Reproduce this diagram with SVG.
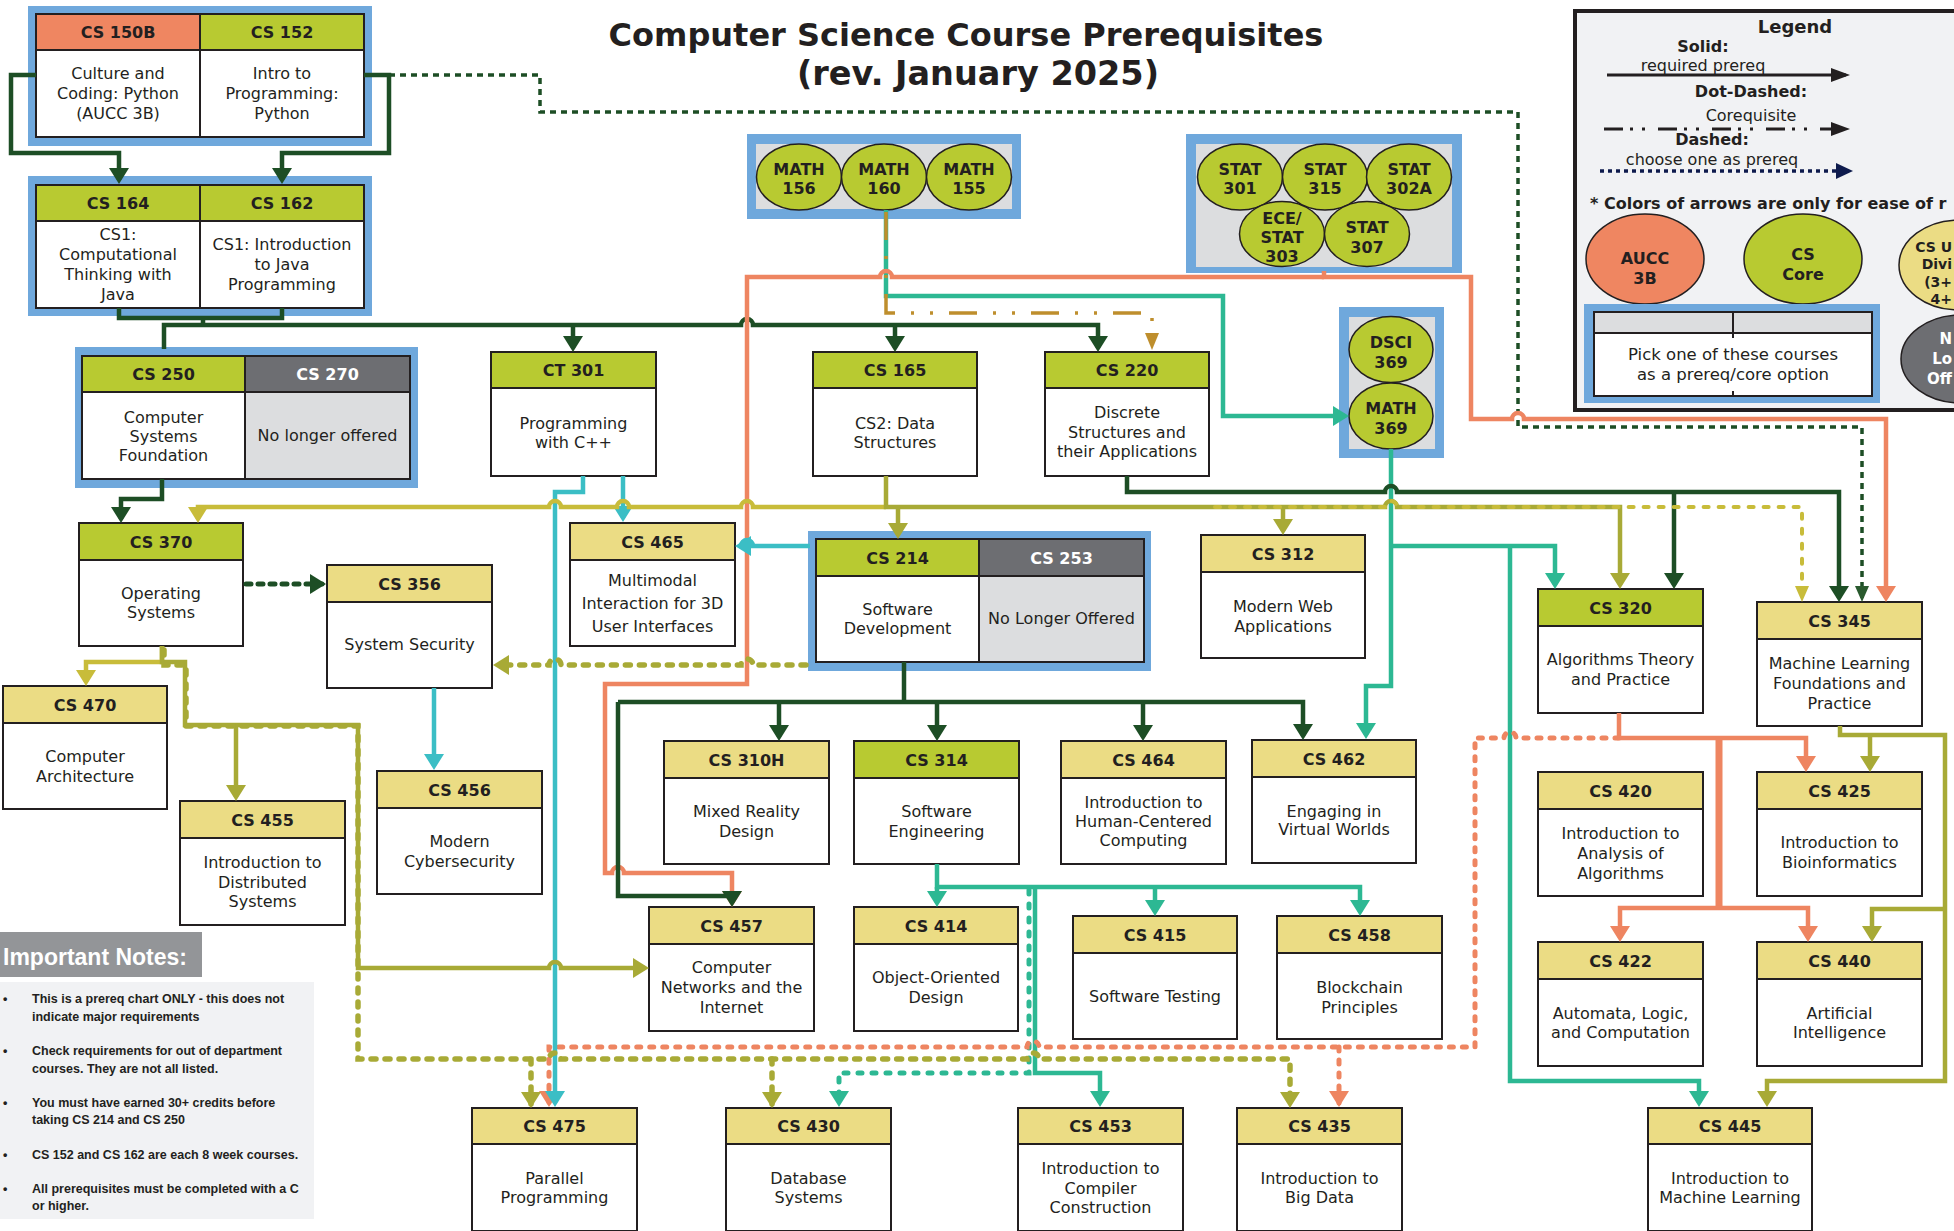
<svg xmlns="http://www.w3.org/2000/svg" width="1954" height="1231" viewBox="0 0 1954 1231">
<style>
.b{stroke:#231F20;stroke-width:2}
.hg{fill:#B8CA31}.hy{fill:#EBDC84}.ho{fill:#EF8661}.hk{fill:#6D6E72}.bw{fill:#fff}.bk{fill:#DCDDDF}
.grp{fill:#6FA8DC}.gin{fill:#DCDDDF}
.el{stroke:#231F20;stroke-width:1.5;fill:#B8CA31}
text{fill:#231F20;font-family:"DejaVu Sans",Verdana,sans-serif}
.h{font-weight:bold;font-size:16px;text-anchor:middle}
.t{font-size:16px;text-anchor:middle}
.w{fill:#fff}
.pe{font-weight:bold;text-anchor:end}
.c{fill:none;stroke-width:4.5}
.dg{stroke:#1D4E25}.or{stroke:#EE8561}.tl{stroke:#2DB893}.cy{stroke:#3BBEC5}.ol{stroke:#A8AA36}.mu{stroke:#C8BC3A}.gd{stroke:#BE8E2D}
.d1{stroke-dasharray:4 5;stroke-width:3.5}
.d2{stroke-dasharray:5 7;stroke-linecap:round;stroke-width:5}
.dr{stroke-dasharray:4 9;stroke-linecap:round;stroke-width:5}
.dol{stroke-dasharray:5 9;stroke-linecap:round;stroke-width:5.5}
.dtl{stroke-dasharray:4 10;stroke-linecap:round;stroke-width:5}
.dmu{stroke-dasharray:5 10;stroke-linecap:round;stroke-width:4}
.note{font-family:"Liberation Sans",Arial,sans-serif;font-weight:bold;font-size:12.5px}
</style>
<defs>
<marker id="adg" markerUnits="userSpaceOnUse" viewBox="0 0 16 20" markerWidth="16" markerHeight="20" refX="12" refY="10" orient="auto"><path d="M0,0 L16,10 L0,20 Z" fill="#1D4E25"/></marker>
<marker id="adgs" markerUnits="userSpaceOnUse" viewBox="0 0 16 14" markerWidth="16" markerHeight="14" refX="12" refY="7" orient="auto"><path d="M0,0 L16,7 L0,14 Z" fill="#2A5A2E"/></marker>
<marker id="aor" markerUnits="userSpaceOnUse" viewBox="0 0 16 20" markerWidth="16" markerHeight="20" refX="12" refY="10" orient="auto"><path d="M0,0 L16,10 L0,20 Z" fill="#EE8561"/></marker>
<marker id="atl" markerUnits="userSpaceOnUse" viewBox="0 0 16 20" markerWidth="16" markerHeight="20" refX="12" refY="10" orient="auto"><path d="M0,0 L16,10 L0,20 Z" fill="#2DB893"/></marker>
<marker id="acy" markerUnits="userSpaceOnUse" viewBox="0 0 16 20" markerWidth="16" markerHeight="20" refX="12" refY="10" orient="auto"><path d="M0,0 L16,10 L0,20 Z" fill="#3BBEC5"/></marker>
<marker id="aol" markerUnits="userSpaceOnUse" viewBox="0 0 16 20" markerWidth="16" markerHeight="20" refX="12" refY="10" orient="auto"><path d="M0,0 L16,10 L0,20 Z" fill="#A8AA36"/></marker>
<marker id="amu" markerUnits="userSpaceOnUse" viewBox="0 0 16 20" markerWidth="16" markerHeight="20" refX="12" refY="10" orient="auto"><path d="M0,0 L16,10 L0,20 Z" fill="#C8BC3A"/></marker>
<marker id="amus" markerUnits="userSpaceOnUse" viewBox="0 0 16 14" markerWidth="16" markerHeight="14" refX="12" refY="7" orient="auto"><path d="M0,0 L16,7 L0,14 Z" fill="#C8BC3A"/></marker>
<marker id="agd" markerUnits="userSpaceOnUse" viewBox="0 0 17 14" markerWidth="17" markerHeight="14" refX="13" refY="7" orient="auto"><path d="M0,0 L17,7 L0,14 Z" fill="#BE8E2D"/></marker>
<marker id="abk" markerUnits="userSpaceOnUse" viewBox="0 0 19 14" markerWidth="19" markerHeight="14" refX="15" refY="7" orient="auto"><path d="M0,0 L19,7 L0,14 Z" fill="#231F20"/></marker>
<marker id="anv" markerUnits="userSpaceOnUse" viewBox="0 0 17 16" markerWidth="17" markerHeight="16" refX="13" refY="8" orient="auto"><path d="M0,0 L17,8 L0,16 Z" fill="#0E1B4D"/></marker>
</defs>
<rect width="1954" height="1231" fill="#fff"/>

<g id="title">
<text x="966" y="46" style="font-weight:bold;font-size:32px" text-anchor="middle">Computer Science Course Prerequisites</text>
<text x="978" y="85" style="font-weight:bold;font-size:33.5px" text-anchor="middle">(rev. January 2025)</text>
</g>

<g id="legend">
<rect x="1575" y="11" width="420" height="399" fill="#F1F2F4" stroke="#231F20" stroke-width="4"/>
<text x="1795" y="33" style="font-weight:bold;font-size:18px" text-anchor="middle">Legend</text>
<text x="1703" y="52" class="h">Solid:</text>
<text x="1703" y="71" class="t">required prereq</text>
<path d="M1607,75 H1846" fill="none" stroke="#231F20" stroke-width="3" marker-end="url(#abk)"/>
<text x="1751" y="97" class="h">Dot-Dashed:</text>
<text x="1751" y="121" class="t">Corequisite</text>
<path d="M1604,129 H1846" fill="none" stroke="#231F20" stroke-width="3" stroke-dasharray="19 7 3 9 3 13" marker-end="url(#abk)"/>
<text x="1712" y="145" class="h">Dashed:</text>
<text x="1712" y="165" class="t">choose one as prereq</text>
<path d="M1600,171 H1849" fill="none" stroke="#0E1B4D" stroke-width="3.5" stroke-dasharray="4 4" marker-end="url(#anv)"/>
<text x="1590" y="209" style="font-weight:bold;font-size:16px">* Colors of arrows are only for ease of r</text>
<ellipse cx="1645" cy="259" rx="59" ry="45" class="el" style="fill:#EF8661"/>
<text x="1645" y="264" class="h">AUCC</text><text x="1645" y="284" class="h">3B</text>
<ellipse cx="1803" cy="259" rx="59" ry="45" class="el"/>
<text x="1803" y="260" class="h">CS</text><text x="1803" y="280" class="h">Core</text>
<ellipse cx="1959" cy="265" rx="60" ry="45" class="el" style="fill:#EBDC84"/>
<text x="1952" y="252" class="pe" style="font-size:14px">CS U</text>
<text x="1952" y="269" class="pe" style="font-size:14px">Divi</text>
<text x="1952" y="287" class="pe" style="font-size:14px">(3+</text>
<text x="1952" y="304" class="pe" style="font-size:14px">4+</text>
<ellipse cx="1961" cy="359" rx="60" ry="44" class="el" style="fill:#6D6E72"/>
<text x="1952" y="344" class="pe w" style="font-size:15px">N</text>
<text x="1952" y="364" class="pe w" style="font-size:15px">Lo</text>
<text x="1952" y="384" class="pe w" style="font-size:15px">Off</text>
<rect x="1584" y="304" width="296" height="99" class="grp"/>
<rect x="1594" y="312" width="139" height="21" class="b bk"/>
<rect x="1733" y="312" width="139" height="21" class="b bk"/>
<rect x="1594" y="333" width="278" height="63" class="b bw"/>
<line x1="1733" y1="333" x2="1733" y2="338" class="b"/>
<line x1="1733" y1="391" x2="1733" y2="396" class="b"/>
<text x="1733" y="360" class="t" style="font-size:16.5px">Pick one of these courses</text>
<text x="1733" y="380" class="t" style="font-size:16.5px">as a prereq/core option</text>
</g>

<g id="notes">
<rect x="0" y="932" width="202" height="45" fill="#939598"/>
<text x="3" y="965" class="w" style="font-family:'Liberation Sans',Arial,sans-serif;font-weight:bold;font-size:23px">Important Notes:</text>
<rect x="0" y="982" width="314" height="237" fill="#F1F2F4"/>
<text x="3" y="1003" class="note">•</text><text x="32" y="1003" class="note">This is a prereq chart ONLY - this does not</text>
<text x="32" y="1021" class="note">indicate major requirements</text>
<text x="3" y="1055" class="note">•</text><text x="32" y="1055" class="note">Check requirements for out of department</text>
<text x="32" y="1073" class="note">courses. They are not all listed.</text>
<text x="3" y="1107" class="note">•</text><text x="32" y="1107" class="note">You must have earned 30+ credits before</text>
<text x="32" y="1124" class="note">taking CS 214 and CS 250</text>
<text x="3" y="1159" class="note">•</text><text x="32" y="1159" class="note">CS 152 and CS 162 are each 8 week courses.</text>
<text x="3" y="1193" class="note">•</text><text x="32" y="1193" class="note">All prerequisites must be completed with a C</text>
<text x="32" y="1210" class="note">or higher.</text>
</g>

<g id="grp-intro">
<rect x="28" y="6" width="344" height="140" class="grp"/>
<g id="cs150b"><rect x="36" y="14" width="164" height="36" class="b ho"/><rect x="36" y="50" width="164" height="87" class="b bw"/>
<text x="118" y="38" class="h">CS 150B</text><text x="118" y="79" class="t">Culture and</text><text x="118" y="99" class="t">Coding: Python</text><text x="118" y="119" class="t">(AUCC 3B)</text></g>
<g id="cs152"><rect x="200" y="14" width="164" height="36" class="b hg"/><rect x="200" y="50" width="164" height="87" class="b bw"/>
<text x="282" y="38" class="h">CS 152</text><text x="282" y="79" class="t">Intro to</text><text x="282" y="99" class="t">Programming:</text><text x="282" y="119" class="t">Python</text></g>
</g>
<g id="grp-cs1">
<rect x="28" y="176" width="344" height="140" class="grp"/>
<g id="cs164"><rect x="36" y="185" width="164" height="36" class="b hg"/><rect x="36" y="221" width="164" height="87" class="b bw"/>
<text x="118" y="209" class="h">CS 164</text><text x="118" y="240" class="t">CS1:</text><text x="118" y="260" class="t">Computational</text><text x="118" y="280" class="t">Thinking with</text><text x="118" y="299.5" class="t">Java</text></g>
<g id="cs162"><rect x="200" y="185" width="164" height="36" class="b hg"/><rect x="200" y="221" width="164" height="87" class="b bw"/>
<text x="282" y="209" class="h">CS 162</text><text x="282" y="250" class="t">CS1: Introduction</text><text x="282" y="270" class="t">to Java</text><text x="282" y="290" class="t">Programming</text></g>
</g>
<g id="grp-250">
<rect x="75" y="347" width="343" height="141" class="grp"/>
<g id="cs250"><rect x="82" y="356" width="163" height="36" class="b hg"/><rect x="82" y="392" width="163" height="87" class="b bw"/>
<text x="163.5" y="380" class="h">CS 250</text><text x="163.5" y="422.5" class="t">Computer</text><text x="163.5" y="441.5" class="t">Systems</text><text x="163.5" y="461" class="t">Foundation</text></g>
<g id="cs270"><rect x="245" y="356" width="165" height="36" class="b hk"/><rect x="245" y="392" width="165" height="87" class="b bk"/>
<text x="327.5" y="380" class="h w">CS 270</text><text x="327.5" y="441" class="t">No longer offered</text></g>
</g>
<g id="grp-math">
<rect x="747" y="134" width="274" height="85" class="grp"/><rect x="756" y="144" width="256" height="65" class="gin"/>
<g id="math156"><ellipse cx="799" cy="177" rx="42.5" ry="33" class="el"/><text x="799" y="175" class="h">MATH</text><text x="799" y="194" class="h">156</text></g>
<g id="math160"><ellipse cx="884" cy="177" rx="42.5" ry="33" class="el"/><text x="884" y="175" class="h">MATH</text><text x="884" y="194" class="h">160</text></g>
<g id="math155"><ellipse cx="969" cy="177" rx="42.5" ry="33" class="el"/><text x="969" y="175" class="h">MATH</text><text x="969" y="194" class="h">155</text></g>
</g>
<g id="grp-stat">
<rect x="1186" y="134" width="276" height="139" class="grp"/><rect x="1196" y="144" width="256" height="123" class="gin"/>
<g id="stat301"><ellipse cx="1240" cy="177" rx="42.5" ry="33" class="el"/><text x="1240" y="175" class="h">STAT</text><text x="1240" y="194" class="h">301</text></g>
<g id="stat315"><ellipse cx="1325" cy="177" rx="42.5" ry="33" class="el"/><text x="1325" y="175" class="h">STAT</text><text x="1325" y="194" class="h">315</text></g>
<g id="stat302a"><ellipse cx="1409" cy="177" rx="42.5" ry="33" class="el"/><text x="1409" y="175" class="h">STAT</text><text x="1409" y="194" class="h">302A</text></g>
<g id="stat303"><ellipse cx="1282" cy="234" rx="42.5" ry="32.5" class="el"/><text x="1282" y="224" class="h">ECE/</text><text x="1282" y="243" class="h">STAT</text><text x="1282" y="262" class="h">303</text></g>
<g id="stat307"><ellipse cx="1367" cy="234" rx="42.5" ry="32.5" class="el"/><text x="1367" y="233" class="h">STAT</text><text x="1367" y="253" class="h">307</text></g>
</g>
<g id="grp-369">
<rect x="1339" y="307" width="105" height="151" class="grp"/><rect x="1349" y="317" width="86" height="132" class="gin"/>
<g id="dsci369"><ellipse cx="1391" cy="349.5" rx="42" ry="33" class="el"/><text x="1391" y="347.5" class="h">DSCI</text><text x="1391" y="367.5" class="h">369</text></g>
<g id="math369"><ellipse cx="1391" cy="416" rx="42" ry="33" class="el"/><text x="1391" y="414" class="h">MATH</text><text x="1391" y="434" class="h">369</text></g>
</g>
<g id="grp-214">
<rect x="808" y="531" width="343" height="140" class="grp"/>
<g id="cs214"><rect x="816" y="539" width="163" height="37" class="b hg"/><rect x="816" y="576" width="163" height="86" class="b bw"/>
<text x="897.5" y="563.5" class="h">CS 214</text><text x="897.5" y="615" class="t">Software</text><text x="897.5" y="634" class="t">Development</text></g>
<g id="cs253"><rect x="979" y="539" width="165" height="37" class="b hk"/><rect x="979" y="576" width="165" height="86" class="b bk"/>
<text x="1061.5" y="563.5" class="h w">CS 253</text><text x="1061.5" y="624" class="t">No Longer Offered</text></g>
</g>

<g id="ct301"><rect x="491" y="352" width="165" height="36" class="b hg"/><rect x="491" y="388" width="165" height="88" class="b bw"/>
<text x="573.5" y="376" class="h">CT 301</text><text x="573.5" y="428.5" class="t">Programming</text><text x="573.5" y="447.5" class="t">with C++</text></g>
<g id="cs165"><rect x="813" y="352" width="164" height="36" class="b hg"/><rect x="813" y="388" width="164" height="88" class="b bw"/>
<text x="895" y="376" class="h">CS 165</text><text x="895" y="428.5" class="t">CS2: Data</text><text x="895" y="447.5" class="t">Structures</text></g>
<g id="cs220"><rect x="1045" y="352" width="164" height="36" class="b hg"/><rect x="1045" y="388" width="164" height="88" class="b bw"/>
<text x="1127" y="376" class="h">CS 220</text><text x="1127" y="418" class="t">Discrete</text><text x="1127" y="437.5" class="t">Structures and</text><text x="1127" y="457" class="t">their Applications</text></g>
<g id="cs370"><rect x="79" y="523" width="164" height="37" class="b hg"/><rect x="79" y="560" width="164" height="86" class="b bw"/>
<text x="161" y="547.5" class="h">CS 370</text><text x="161" y="599" class="t">Operating</text><text x="161" y="618" class="t">Systems</text></g>
<g id="cs465"><rect x="570" y="523" width="165" height="37" class="b hy"/><rect x="570" y="560" width="165" height="86" class="b bw"/>
<text x="652.5" y="547.5" class="h">CS 465</text><text x="652.5" y="586" class="t">Multimodal</text><text x="652.5" y="609" class="t">Interaction for 3D</text><text x="652.5" y="632" class="t">User Interfaces</text></g>
<g id="cs312"><rect x="1201" y="535" width="164" height="37" class="b hy"/><rect x="1201" y="572" width="164" height="86" class="b bw"/>
<text x="1283" y="559.5" class="h">CS 312</text><text x="1283" y="611.5" class="t">Modern Web</text><text x="1283" y="631.5" class="t">Applications</text></g>
<g id="cs356"><rect x="327" y="565" width="165" height="37" class="b hy"/><rect x="327" y="602" width="165" height="86" class="b bw"/>
<text x="409.5" y="589.5" class="h">CS 356</text><text x="409.5" y="650" class="t">System Security</text></g>
<g id="cs320"><rect x="1538" y="589" width="165" height="37" class="b hg"/><rect x="1538" y="626" width="165" height="87" class="b bw"/>
<text x="1620.5" y="613.5" class="h">CS 320</text><text x="1620.5" y="665" class="t">Algorithms Theory</text><text x="1620.5" y="685" class="t">and Practice</text></g>
<g id="cs345"><rect x="1757" y="602" width="165" height="37" class="b hy"/><rect x="1757" y="639" width="165" height="87" class="b bw"/>
<text x="1839.5" y="626.5" class="h">CS 345</text><text x="1839.5" y="668.5" class="t">Machine Learning</text><text x="1839.5" y="688.5" class="t">Foundations and</text><text x="1839.5" y="708.5" class="t">Practice</text></g>
<g id="cs470"><rect x="3" y="686" width="164" height="37" class="b hy"/><rect x="3" y="723" width="164" height="86" class="b bw"/>
<text x="85" y="710.5" class="h">CS 470</text><text x="85" y="762" class="t">Computer</text><text x="85" y="782" class="t">Architecture</text></g>
<g id="cs310h"><rect x="664" y="741" width="165" height="37" class="b hy"/><rect x="664" y="778" width="165" height="86" class="b bw"/>
<text x="746.5" y="765.5" class="h">CS 310H</text><text x="746.5" y="816.5" class="t">Mixed Reality</text><text x="746.5" y="836.5" class="t">Design</text></g>
<g id="cs314"><rect x="854" y="741" width="165" height="37" class="b hg"/><rect x="854" y="778" width="165" height="86" class="b bw"/>
<text x="936.5" y="765.5" class="h">CS 314</text><text x="936.5" y="816.5" class="t">Software</text><text x="936.5" y="836.5" class="t">Engineering</text></g>
<g id="cs464"><rect x="1061" y="741" width="165" height="37" class="b hy"/><rect x="1061" y="778" width="165" height="86" class="b bw"/>
<text x="1143.5" y="765.5" class="h">CS 464</text><text x="1143.5" y="807.5" class="t">Introduction to</text><text x="1143.5" y="826.5" class="t">Human-Centered</text><text x="1143.5" y="846" class="t">Computing</text></g>
<g id="cs462"><rect x="1252" y="740" width="164" height="37" class="b hy"/><rect x="1252" y="777" width="164" height="86" class="b bw"/>
<text x="1334" y="764.5" class="h">CS 462</text><text x="1334" y="816.5" class="t">Engaging in</text><text x="1334" y="835" class="t">Virtual Worlds</text></g>
<g id="cs456"><rect x="377" y="771" width="165" height="37" class="b hy"/><rect x="377" y="808" width="165" height="86" class="b bw"/>
<text x="459.5" y="795.5" class="h">CS 456</text><text x="459.5" y="847" class="t">Modern</text><text x="459.5" y="866.5" class="t">Cybersecurity</text></g>
<g id="cs420"><rect x="1538" y="772" width="165" height="37" class="b hy"/><rect x="1538" y="809" width="165" height="87" class="b bw"/>
<text x="1620.5" y="796.5" class="h">CS 420</text><text x="1620.5" y="838.5" class="t">Introduction to</text><text x="1620.5" y="858.5" class="t">Analysis of</text><text x="1620.5" y="878.5" class="t">Algorithms</text></g>
<g id="cs425"><rect x="1757" y="772" width="165" height="37" class="b hy"/><rect x="1757" y="809" width="165" height="87" class="b bw"/>
<text x="1839.5" y="796.5" class="h">CS 425</text><text x="1839.5" y="848" class="t">Introduction to</text><text x="1839.5" y="868" class="t">Bioinformatics</text></g>
<g id="cs455"><rect x="180" y="801" width="165" height="37" class="b hy"/><rect x="180" y="838" width="165" height="87" class="b bw"/>
<text x="262.5" y="825.5" class="h">CS 455</text><text x="262.5" y="868" class="t">Introduction to</text><text x="262.5" y="887.5" class="t">Distributed</text><text x="262.5" y="907" class="t">Systems</text></g>
<g id="cs457"><rect x="649" y="907" width="165" height="37" class="b hy"/><rect x="649" y="944" width="165" height="87" class="b bw"/>
<text x="731.5" y="931.5" class="h">CS 457</text><text x="731.5" y="973" class="t">Computer</text><text x="731.5" y="993" class="t">Networks and the</text><text x="731.5" y="1013" class="t">Internet</text></g>
<g id="cs414"><rect x="854" y="907" width="164" height="37" class="b hy"/><rect x="854" y="944" width="164" height="87" class="b bw"/>
<text x="936" y="931.5" class="h">CS 414</text><text x="936" y="983" class="t">Object-Oriented</text><text x="936" y="1003" class="t">Design</text></g>
<g id="cs415"><rect x="1073" y="916" width="164" height="37" class="b hy"/><rect x="1073" y="953" width="164" height="86" class="b bw"/>
<text x="1155" y="940.5" class="h">CS 415</text><text x="1155" y="1002" class="t">Software Testing</text></g>
<g id="cs458"><rect x="1277" y="916" width="165" height="37" class="b hy"/><rect x="1277" y="953" width="165" height="86" class="b bw"/>
<text x="1359.5" y="940.5" class="h">CS 458</text><text x="1359.5" y="992.5" class="t">Blockchain</text><text x="1359.5" y="1012.5" class="t">Principles</text></g>
<g id="cs422"><rect x="1538" y="942" width="165" height="37" class="b hy"/><rect x="1538" y="979" width="165" height="87" class="b bw"/>
<text x="1620.5" y="966.5" class="h">CS 422</text><text x="1620.5" y="1018.5" class="t">Automata, Logic,</text><text x="1620.5" y="1038" class="t">and Computation</text></g>
<g id="cs440"><rect x="1757" y="942" width="165" height="37" class="b hy"/><rect x="1757" y="979" width="165" height="87" class="b bw"/>
<text x="1839.5" y="966.5" class="h">CS 440</text><text x="1839.5" y="1018.5" class="t">Artificial</text><text x="1839.5" y="1038" class="t">Intelligence</text></g>
<g id="cs475"><rect x="472" y="1108" width="165" height="36" class="b hy"/><rect x="472" y="1144" width="165" height="87" class="b bw"/>
<text x="554.5" y="1132" class="h">CS 475</text><text x="554.5" y="1184" class="t">Parallel</text><text x="554.5" y="1203" class="t">Programming</text></g>
<g id="cs430"><rect x="726" y="1108" width="165" height="36" class="b hy"/><rect x="726" y="1144" width="165" height="87" class="b bw"/>
<text x="808.5" y="1132" class="h">CS 430</text><text x="808.5" y="1184" class="t">Database</text><text x="808.5" y="1203" class="t">Systems</text></g>
<g id="cs453"><rect x="1018" y="1108" width="165" height="36" class="b hy"/><rect x="1018" y="1144" width="165" height="87" class="b bw"/>
<text x="1100.5" y="1132" class="h">CS 453</text><text x="1100.5" y="1174" class="t">Introduction to</text><text x="1100.5" y="1194" class="t">Compiler</text><text x="1100.5" y="1213" class="t">Construction</text></g>
<g id="cs435"><rect x="1237" y="1108" width="165" height="36" class="b hy"/><rect x="1237" y="1144" width="165" height="87" class="b bw"/>
<text x="1319.5" y="1132" class="h">CS 435</text><text x="1319.5" y="1184" class="t">Introduction to</text><text x="1319.5" y="1203" class="t">Big Data</text></g>
<g id="cs445"><rect x="1648" y="1108" width="164" height="36" class="b hy"/><rect x="1648" y="1144" width="164" height="87" class="b bw"/>
<text x="1730" y="1132" class="h">CS 445</text><text x="1730" y="1184" class="t">Introduction to</text><text x="1730" y="1203" class="t">Machine Learning</text></g>

<g id="connectors">
<path class="c tl" d="M886,210 V296 H1223 V416 H1345" marker-end="url(#atl)"/>
<path class="c tl" d="M1391,449 V686 H1366 V735" marker-end="url(#atl)"/>
<path class="c tl" d="M1391,546 H1555 V585" marker-end="url(#atl)"/>
<path class="c tl" d="M1510,546 V1081 H1699 V1103" marker-end="url(#atl)"/>
<path class="c tl" d="M937,864 V887 H1360 V912" marker-end="url(#atl)"/>
<path class="c tl" d="M937,887 V903" marker-end="url(#atl)"/>
<path class="c tl" d="M1155,887 V912" marker-end="url(#atl)"/>
<path class="c tl" d="M1035,887 V1073 H1100 V1103" marker-end="url(#atl)"/>
<path class="c tl dtl" d="M1029,890 V1073 H839 V1103" marker-end="url(#atl)"/>
<path class="c gd" style="stroke-width:3.5" stroke-dasharray="28 16 3 16 3 16" d="M886,212 V313 H1152 V346" marker-end="url(#agd)"/>
<path class="c dg" d="M36,75 H11 V153 H119 V180" marker-end="url(#adg)"/>
<path class="c dg" d="M364,75 H389 V153 H282 V180" marker-end="url(#adg)"/>
<path class="c dg" d="M119,308 V318 H282 V308 M203,318 V325"/>
<path class="c dg" d="M164,349 V325 H741 a6,6 0 0 1 12,0 H1098 V348" marker-end="url(#adg)"/>
<path class="c dg" d="M573,325 V348" marker-end="url(#adg)"/>
<path class="c dg" d="M895,325 V348" marker-end="url(#adg)"/>
<path class="c dg" d="M162,479 V499 H121 V519" marker-end="url(#adg)"/>
<path class="c dg" d="M1127,476 V492 H1385 a6,6 0 0 1 12,0 H1839 V598" marker-end="url(#adg)"/>
<path class="c dg" d="M1674,492 V585" marker-end="url(#adg)"/>
<path class="c dg" d="M904,662 V702"/>
<path class="c dg" d="M618,702 H1303 V736" marker-end="url(#adg)"/>
<path class="c dg" d="M779,702 V737" marker-end="url(#adg)"/>
<path class="c dg" d="M937,702 V737" marker-end="url(#adg)"/>
<path class="c dg" d="M1143,702 V737" marker-end="url(#adg)"/>
<path class="c dg d1" d="M389,75 H540 V112 H1518 V427 H1862 V598" style="stroke-dasharray:6 5" marker-end="url(#adgs)"/>
<path class="c dg d2" d="M246,584 H322" marker-end="url(#adg)"/>
<path class="c or" d="M1324,271 V277 H1471 V419 H1512 a6,6 0 0 1 12,0 H1886 V598" marker-end="url(#aor)"/>
<path class="c or" d="M1324,277 H892 a6,6 0 0 0 -12,0 H747 V684 H605 V873 H612 a6,6 0 0 1 12,0 H732 V903" marker-end="url(#aor)"/>
<path class="c dg" d="M618,702 V896 H732 V903" marker-end="url(#adg)"/>
<path class="c or" d="M1619,713 V738 H1806 V768" marker-end="url(#aor)"/>
<path class="c or" style="stroke-width:7" d="M1719,738 V908"/>
<path class="c or" d="M1719,908 H1620 V938" marker-end="url(#aor)"/>
<path class="c or" d="M1719,908 H1808 V938" marker-end="url(#aor)"/>
<path class="c or dr" d="M1619,738 H1516 a6,6 0 0 0 -12,0 H1475 V1047 H1039 a6,6 0 0 0 -12,0 H549 V1103" marker-end="url(#aor)"/>
<path class="c or dr" d="M1339,1047 V1103" marker-end="url(#aor)"/>
<path class="c cy" d="M583,476 V492 H555 V1103" marker-end="url(#acy)"/>
<path class="c cy" d="M623,476 V518" marker-end="url(#acy)"/>
<path class="c cy" d="M810,546 H753 a6,6 0 0 0 -12,0 H739" marker-end="url(#acy)"/>
<path class="c cy" d="M434,688 V766" marker-end="url(#acy)"/>
<path class="c mu" d="M886,507 H753 a6,6 0 0 0 -12,0 H629 a6,6 0 0 0 -12,0 H561 a6,6 0 0 0 -12,0 H198 V519" marker-end="url(#amu)"/>
<path class="c ol" d="M886,476 V507 H1385 a6,6 0 0 1 12,0 H1620 V585" marker-end="url(#aol)"/>
<path class="c ol" d="M898,507 V535" marker-end="url(#aol)"/>
<path class="c ol" d="M1283,507 V531" marker-end="url(#aol)"/>
<path class="c mu dmu" d="M1215,507 H1385 a6,6 0 0 1 12,0 H1802 V598" marker-end="url(#amus)"/>
<path class="c mu" d="M162,646 V662 H86 V682" marker-end="url(#amu)"/>
<path class="c ol" d="M162,646 V662 H185 V725 H358 V968 H549 a6,6 0 0 1 12,0 H645" marker-end="url(#aol)"/>
<path class="c ol" d="M236,725 V797" marker-end="url(#aol)"/>
<path class="c ol dol" d="M164,650 V665 H186 V726 H358 V1059 H549 a6,6 0 0 1 12,0 H1027 a6,6 0 0 1 12,0 H1290 V1104" marker-end="url(#aol)"/>
<path class="c ol dol" d="M531,1059 V1104" marker-end="url(#aol)"/>
<path class="c ol dol" d="M772,1059 V1104" marker-end="url(#aol)"/>
<path class="c ol dol" d="M806,665 H753 a6,6 0 0 0 -12,0 H561 a6,6 0 0 0 -12,0 H497" marker-end="url(#aol)"/>
<path class="c ol" d="M1840,726 V735 H1945 V1081 H1767 V1103" marker-end="url(#aol)"/>
<path class="c ol" d="M1870,735 V768" marker-end="url(#aol)"/>
<path class="c ol" d="M1945,909 H1872 V938" marker-end="url(#aol)"/>
</g>
</svg>
